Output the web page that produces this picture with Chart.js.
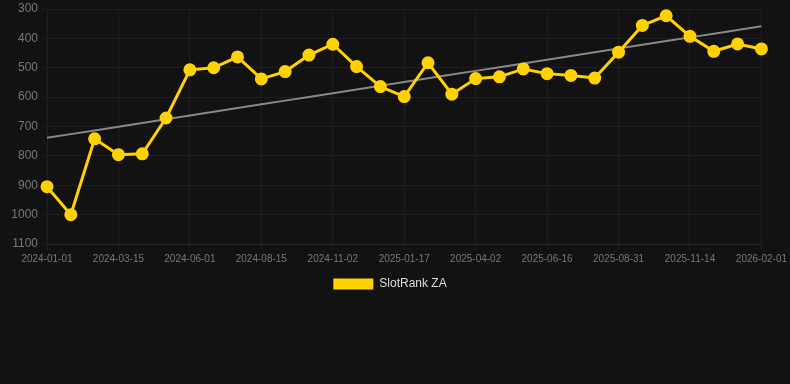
<!DOCTYPE html>
<html lang="en">
<head>
    <meta charset="UTF-8">
    <title>SlotRank ZA</title>
    <style>
        html, body {
            margin: 0;
            padding: 0;
            background: #121212;
        }
        .chart-box {
            width: 790px;
            height: 384px;
        }
    </style>
</head>
<body>
    <div class="chart-box">
        <canvas id="rank-chart"></canvas>
    </div>

    <script src="https://cdn.jsdelivr.net/npm/chart.js"></script>
    <script>
        const dates = [
            '2024-01-01', '2024-01-26', '2024-02-20', '2024-03-15', '2024-04-10', '2024-05-06',
            '2024-06-01', '2024-06-26', '2024-07-21', '2024-08-15', '2024-09-10', '2024-10-07',
            '2024-11-02', '2024-11-27', '2024-12-23', '2025-01-17', '2025-02-11', '2025-03-08',
            '2025-04-02', '2025-04-27', '2025-05-22', '2025-06-16', '2025-07-11', '2025-08-06',
            '2025-08-31', '2025-09-25', '2025-10-20', '2025-11-14', '2025-12-10', '2026-01-06',
            '2026-02-01'
        ];
        const ranks = [
            905, 1000, 742, 796, 793, 671,
            507, 500, 463, 538, 513, 457,
            420, 496, 564, 598, 483, 590,
            537, 531, 504, 520, 526, 535,
            447, 356, 323, 393, 444, 419,
            436
        ];
        const yTicks = [300, 400, 500, 600, 700, 800, 900, 1000, 1100];

        // least squares trend over the rank series
        function trendLine(values) {
            const n = values.length;
            let sx = 0, sy = 0, sxy = 0, sxx = 0;
            values.forEach((v, i) => {
                sx += i; sy += v; sxy += i * v; sxx += i * i;
            });
            const slope = (n * sxy - sx * sy) / (n * sxx - sx * sx);
            const icept = (sy - slope * sx) / n;
            return values.map((v, i) => icept + slope * i);
        }

        const gold = '#ffd200';
        const fontFam = 'Arial, Liberation Sans, sans-serif';

        const ctx = document.getElementById('rank-chart').getContext('2d');
        new Chart(ctx, {
            type: 'line',
            data: {
                labels: dates,
                datasets: [{
                    label: 'SlotRank ZA',
                    data: ranks,
                    borderColor: gold,
                    backgroundColor: gold,
                    borderWidth: 3,
                    pointRadius: 5,
                    pointHoverRadius: 6,
                    tension: 0
                }, {
                    label: 'trend',
                    data: trendLine(ranks),
                    borderColor: 'rgba(150, 150, 150, 0.9)',
                    borderWidth: 2,
                    pointRadius: 0,
                    fill: false
                }]
            },
            options: {
                responsive: true,
                maintainAspectRatio: false,
                animation: false,
                layout: {
                    padding: { top: 4, left: 0, right: 10, bottom: 84 }
                },
                plugins: {
                    tooltip: { enabled: false },
                    legend: {
                        position: 'bottom',
                        labels: {
                            color: '#dddddd',
                            font: { family: fontFam, size: 12 },
                            boxWidth: 40,
                            boxHeight: 11,
                            generateLabels: chart => [{
                                text: chart.data.datasets[0].label,
                                fillStyle: gold,
                                strokeStyle: gold,
                                lineWidth: 0,
                                fontColor: '#dddddd',
                                datasetIndex: 0
                            }]
                        }
                    }
                },
                scales: {
                    x: {
                        grid: { color: '#1e1e1e', tickLength: 6 },
                        border: { color: '#262626' },
                        ticks: {
                            color: '#777',
                            font: { family: fontFam, size: 10 },
                            autoSkip: false,
                            maxRotation: 0,
                            callback: function (val, i) {
                                return i % 3 === 0 ? dates[i] : null;
                            }
                        }
                    },
                    y: {
                        reverse: true,
                        min: yTicks[0],
                        max: yTicks[yTicks.length - 1],
                        grid: { color: '#1e1e1e', tickLength: 5 },
                        border: { display: false },
                        afterBuildTicks: axis => {
                            axis.ticks = yTicks.map(v => ({ value: v }));
                        },
                        afterFit: axis => {
                            axis.width = 47;
                            axis.paddingTop = 0;
                        },
                        ticks: {
                            color: '#777',
                            font: { family: fontFam, size: 12 },
                            padding: 4,
                            callback: v => String(v)
                        }
                    }
                }
            }
        });
    </script>
</body>
</html>
